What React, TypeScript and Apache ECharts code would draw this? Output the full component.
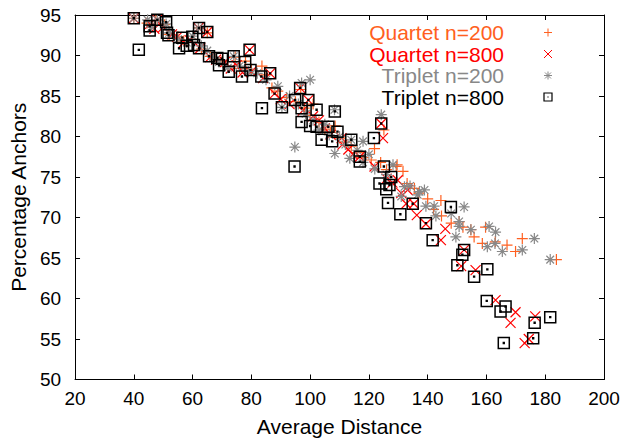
import React, { useEffect, useRef } from "react";
import * as echarts from "echarts";

const xTicks = [20, 40, 60, 80, 100, 120, 140, 160, 180, 200];
const yTicks = [50, 55, 60, 65, 70, 75, 80, 85, 90, 95];

const seriesNames = ["Quartet n=200", "Quartet n=800", "Triplet n=200", "Triplet n=800"];

const quartet200: number[][] = [
  [40, 94.6], [44.5, 94], [47.5, 94.3], [50.5, 93.8], [52, 92.6], [55, 92.3], [57, 91.8], [60, 92.0],
  [62, 93.4], [63, 90.8], [65, 92.8], [66, 89.9], [68, 89.6], [70, 89.3], [72, 88.6], [74.5, 89.8],
  [76, 88.4], [78, 89.3], [80, 88.3], [83.6, 88.7], [85, 87.6], [87, 86.0], [89, 85.6], [92, 84.8],
  [95, 84.3], [96.8, 85.8], [98, 83.5], [100, 82.6], [101, 84.0], [103, 81.8], [105, 80.9], [107, 80.5],
  [108.5, 81.3], [110, 79.8], [112, 79.3], [114, 78.8], [116, 78.0], [118, 77.4], [120.8, 77.1],
  [121.9, 78.5], [125.1, 80.8], [124, 76.8], [126, 75.9], [129.3, 76.3], [129.6, 76.5], [131.6, 75.7],
  [133, 74.2], [135.5, 73.6], [137, 73.0], [140, 72.3], [142, 71.0], [144.5, 72.1], [144.7, 70.2],
  [148, 69.3], [150.7, 69.5], [152, 68.8], [154.7, 68.5], [155.8, 67.6], [158.6, 66.8], [159.7, 68.8],
  [163, 67.0], [167, 66.6], [169.9, 65.8], [172.2, 67.4], [183.8, 64.8],
];

const quartet800: number[][] = [
  [40, 94.6], [45.5, 93.9], [47, 93.3], [48, 94.4], [50, 93.5], [53, 92.6], [54.8, 92.3], [57, 91.6],
  [59, 91.9], [62, 93.4], [62.6, 90.9], [65, 92.9], [66, 89.8], [68, 89.5], [71, 89.2], [73, 88.4],
  [75, 88.8], [77, 87.9], [79.4, 90.7], [80, 88.0], [84, 87.2], [86.4, 87.8], [87.9, 85.3], [90, 84.6],
  [93, 84.0], [96.6, 86.0], [97.5, 83.2], [99.4, 84.5], [101, 82.5], [103, 82.0], [105, 81.0],
  [107, 80.2], [110.7, 79.8], [111, 79.0], [113, 78.4], [114.5, 77.8], [116.9, 77.5], [121.9, 76.3],
  [124.2, 81.6], [124.8, 79.8], [126, 74.8], [128, 74.3], [129.8, 74.6], [131, 73.0], [133.2, 73.4],
  [132.7, 71.7], [135.3, 71.7], [136.3, 70.3], [139.4, 69.2], [144.5, 67.2], [146, 68.6], [152.4, 66.0],
  [151.4, 64.0], [156.3, 63.5], [163.1, 59.8], [169.9, 58.3], [168.2, 57.0], [176.6, 57.8], [173, 54.5],
  [174.4, 55.0],
];

const triplet200: number[][] = [
  [40, 94.6], [44.7, 94.4], [46, 93.5], [48, 94.4], [51, 93.9], [52, 92.8], [55, 92.0], [58, 91.6],
  [60, 92.4], [62, 93.4], [63, 91.2], [65, 90.6], [67, 89.8], [69, 89.2], [72, 88.5], [74, 89.9],
  [76, 88.7], [79, 88.0], [82, 87.8], [85, 87.0], [89, 86.2], [90.4, 83.6], [93, 85.0], [94.8, 78.7],
  [96, 84.0], [97.1, 86.6], [98.5, 82.8], [100, 87.0], [101, 82.0], [103, 80.8], [105, 81.5],
  [106.5, 80.2], [108.3, 83.3], [108.4, 77.9], [110, 80.0], [112, 79.0], [113.5, 77.3], [114, 79.6],
  [118, 79.4], [116, 78.3], [118, 76.8], [120, 77.8], [122, 76.0], [124.2, 82.7], [126, 75.3],
  [128.2, 76.5], [131, 72.6], [132.1, 73.8], [134, 73.9], [136.6, 72.8], [137.2, 73.2], [138.9, 73.4],
  [139.4, 71.4], [142.2, 71.4], [142.8, 70.2], [148, 70.5], [149.6, 67.6], [150.7, 69.5], [150.7, 68.9],
  [152.4, 71.3], [154.7, 68.5], [160.3, 66.4], [160.9, 68.9], [162.9, 66.8], [163.1, 68.2], [165.4, 65.8],
  [172.2, 66.0], [176.3, 67.4], [181.7, 64.8],
];

const triplet800: number[][] = [
  [40, 94.6], [41.7, 90.7], [45.4, 93.1], [45.4, 93.6], [48, 94.4], [51, 94.1], [51.3, 92.8], [51.8, 92.5],
  [55.4, 90.9], [56.5, 92.2], [58, 91.2], [59.9, 92.3], [60.5, 91.3], [62.2, 93.4], [62.2, 90.9],
  [65, 92.9], [65.6, 89.9], [68.4, 89.7], [69, 88.8], [70, 89.6], [72.3, 88.0], [74, 89.9], [76.8, 87.4],
  [77.9, 89.2], [79.4, 90.7], [79.7, 88.2], [83.4, 87.4], [86.4, 87.8], [87.9, 85.3], [83.6, 83.5],
  [90.4, 83.6], [94.7, 76.3], [94.9, 84.5], [96.6, 86.0], [97.1, 83.5], [97.1, 81.8], [99.4, 84.5],
  [100, 81.3], [102.2, 83.3], [102.2, 81.2], [103.9, 79.6], [106.2, 81.2], [107.5, 79.4], [108.4, 83.1],
  [109.3, 80.6], [114, 79.6], [116.9, 77.5], [116.9, 76.9], [121.7, 79.8], [124.2, 81.6], [125.1, 76.3],
  [123.6, 74.2], [125.9, 73.5], [127, 74.0], [127.6, 75.0], [126.5, 71.8], [130.7, 70.4], [134.9, 71.7],
  [139.4, 69.3], [141.7, 67.2], [147.9, 71.3], [151.8, 65.4], [152.4, 66.0], [150.1, 64.1], [155.8, 62.7],
  [160.3, 63.6], [160.1, 59.7], [164.8, 58.4], [166.5, 59.0], [165.9, 54.5], [176.4, 57.0], [175.9, 55.1],
  [181.7, 57.7],
];

const colors = ["#ff6020", "#ff0000", "#888888", "#000000"];
const symbols = [
  "path://M0,5L10,5M5,0L5,10",
  "path://M0,0L10,10M10,0L0,10",
  "path://M0,5L10,5M5,0L5,10M1.5,1.5L8.5,8.5M8.5,1.5L1.5,8.5",
  "path://M0,0L10,0L10,10L0,10ZM4.6,4.6L5.4,4.6L5.4,5.4L4.6,5.4Z",
];
const symbolSizes = [11, 10, 11, 11];

const FONT = "Liberation Sans, Arial, Helvetica, sans-serif";

export default function App() {
  const ref = useRef<HTMLDivElement>(null);
  useEffect(() => {
    if (!ref.current) return;
    const chart = echarts.init(ref.current, undefined, { renderer: "svg" });
    const datasets = [quartet200, quartet800, triplet200, triplet800];

    const legendY = [32.5, 54, 75.5, 97];
    const lx = 548;
    const h = 4;
    const legendGraphics: any[] = [];
    seriesNames.forEach((name, i) => {
      legendGraphics.push({
        type: "text",
        x: 504,
        y: legendY[i],
        style: {
          text: name,
          fill: colors[i],
          font: `21px ${FONT}`,
          textAlign: "right",
          textVerticalAlign: "middle",
        },
      });
    });
    const ln = (x1: number, y1: number, x2: number, y2: number, c: string) => ({
      type: "line",
      shape: { x1, y1, x2, y2 },
      style: { stroke: c, lineWidth: 1 },
    });
    legendGraphics.push(ln(lx - h, legendY[0], lx + h, legendY[0], colors[0]));
    legendGraphics.push(ln(lx, legendY[0] - h, lx, legendY[0] + h, colors[0]));
    legendGraphics.push(ln(lx - h, legendY[1] - h, lx + h, legendY[1] + h, colors[1]));
    legendGraphics.push(ln(lx - h, legendY[1] + h, lx + h, legendY[1] - h, colors[1]));
    legendGraphics.push(ln(lx - h, legendY[2], lx + h, legendY[2], colors[2]));
    legendGraphics.push(ln(lx, legendY[2] - h, lx, legendY[2] + h, colors[2]));
    legendGraphics.push(ln(lx - 3, legendY[2] - 3, lx + 3, legendY[2] + 3, colors[2]));
    legendGraphics.push(ln(lx - 3, legendY[2] + 3, lx + 3, legendY[2] - 3, colors[2]));
    legendGraphics.push({
      type: "rect",
      shape: { x: lx - h, y: legendY[3] - h, width: 2 * h, height: 2 * h },
      style: { stroke: colors[3], fill: "none", lineWidth: 1.2 },
    });
    legendGraphics.push({
      type: "rect",
      shape: { x: lx - 0.6, y: legendY[3] - 0.6, width: 1.2, height: 1.2 },
      style: { fill: colors[3] },
    });

    const axisCommon = {
      axisLine: { show: true, lineStyle: { color: "#000", width: 1 } },
      axisTick: { show: true, inside: true, length: 5, lineStyle: { color: "#000", width: 1 } },
      splitLine: { show: false },
    };

    chart.setOption({
      animation: false,
      grid: { left: 72, right: 20, top: 15, bottom: 62.5, containLabel: false },
      xAxis: [
        {
          type: "value",
          min: xTicks[0],
          max: xTicks[xTicks.length - 1],
          interval: 20,
          position: "bottom",
          ...axisCommon,
          axisLabel: { fontSize: 19, color: "#000", fontFamily: FONT, margin: 9 },
          name: "Average Distance",
          nameLocation: "middle",
          nameGap: 36,
          nameTextStyle: { fontSize: 21, color: "#000", fontFamily: FONT },
        },
        {
          type: "value",
          min: xTicks[0],
          max: xTicks[xTicks.length - 1],
          interval: 20,
          position: "top",
          ...axisCommon,
          axisLabel: { show: false },
        },
      ],
      yAxis: [
        {
          type: "value",
          min: yTicks[0],
          max: yTicks[yTicks.length - 1],
          interval: 5,
          position: "left",
          ...axisCommon,
          axisLabel: { fontSize: 19, color: "#000", fontFamily: FONT, margin: 14 },
          name: "Percentage Anchors",
          nameLocation: "middle",
          nameGap: 42,
          nameTextStyle: { fontSize: 21, color: "#000", fontFamily: FONT },
        },
        {
          type: "value",
          min: yTicks[0],
          max: yTicks[yTicks.length - 1],
          interval: 5,
          position: "right",
          ...axisCommon,
          axisLabel: { show: false },
        },
      ],
      graphic: legendGraphics,
      series: datasets.map((d, i) => ({
        name: seriesNames[i],
        type: "scatter",
        xAxisIndex: 0,
        yAxisIndex: 0,
        data: d,
        symbol: symbols[i],
        symbolSize: symbolSizes[i],
        itemStyle: {
          color: "rgba(0,0,0,0)",
          borderColor: colors[i],
          borderWidth: i === 3 ? 1.5 : 1.2,
          opacity: 1,
        },
        emphasis: { disabled: true },
      })),
    });
    return () => chart.dispose();
  }, []);
  return (
    <div
      ref={ref}
      style={{ position: "fixed", left: 0, top: 0, width: 624, height: 442, background: "#fff" }}
    />
  );
}
